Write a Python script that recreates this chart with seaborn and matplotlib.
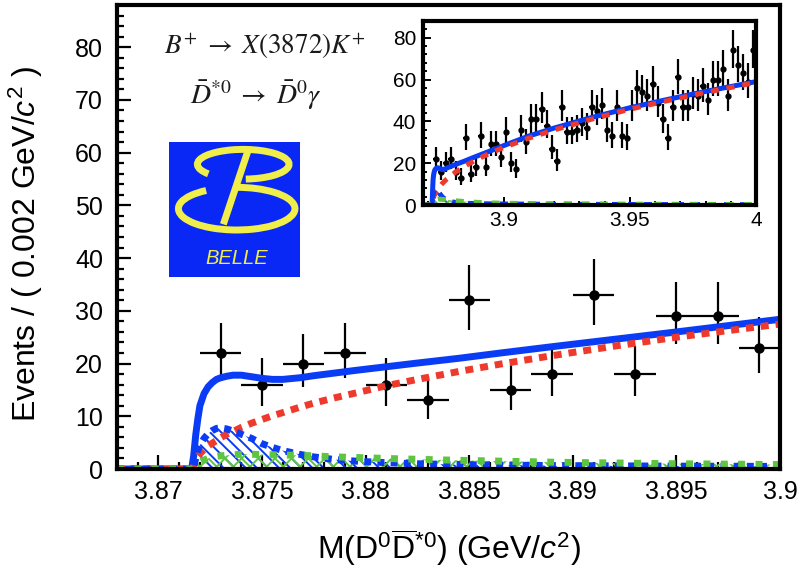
import numpy as np
import matplotlib
matplotlib.use("Agg")
import matplotlib.pyplot as plt
from matplotlib.patches import Arc, Rectangle
from matplotlib.ticker import MultipleLocator, FixedLocator, FixedFormatter
import seaborn as sns

# ---------------------------------------------------------------- data
# Events per 2 MeV/c^2 bin; the first bin starts at 3.872 GeV/c^2
bin_start = 3.872
bin_width = 0.002
events = [22, 16, 20, 22, 16, 13, 32, 15, 18, 33, 18, 29, 29, 23,
          35, 20, 17, 36, 30, 41, 41, 46, 38, 27, 21, 47, 35, 35, 36, 39,
          37, 47, 45, 48, 36, 33, 47, 33, 32, 47, 56, 54, 52, 58, 49, 41,
          32, 47, 61, 47, 47, 53, 52, 57, 50, 60, 60, 65, 52, 74, 67, 63,
          59, 74]

# Fit components sampled along M(D0 D*0bar)
fit_mass = [3.868, 3.8716, 3.8717, 3.8718, 3.8719, 3.872, 3.8722, 3.8724,
            3.8726, 3.8728, 3.873, 3.8733, 3.8736, 3.874, 3.8745, 3.875,
            3.8755, 3.876, 3.8768, 3.8775, 3.8785, 3.8795, 3.881, 3.8825,
            3.8845, 3.8865, 3.889, 3.892, 3.895, 3.9, 3.91, 3.92, 3.935,
            3.95, 3.965, 3.98, 4.0]
fit_total = [0, 0, 2.5, 6.5, 9.5, 12.0, 14.3, 15.6, 16.4, 17.0, 17.3, 17.6,
             17.8, 17.8, 17.5, 17.2, 17.0, 17.0, 17.3, 17.7, 18.2, 18.7,
             19.4, 20.1, 21.0, 22.0, 23.2, 24.6, 26.0, 28.4, 33.0, 36.8,
             41.9, 46.5, 50.5, 54.3, 59.0]
fit_background = [0, 0, 0.5, 1.7, 2.4, 2.9, 3.7, 4.4, 4.9, 5.4, 5.9, 6.6,
                  7.1, 7.9, 8.7, 9.4, 10.1, 10.7, 11.7, 12.5, 13.5, 14.4,
                  15.8, 17.0, 18.5, 19.9, 21.5, 23.3, 25.0, 27.5, 32.0, 35.9,
                  41.1, 45.8, 49.9, 53.8, 58.6]
fit_signal_a = [0, 0, 0.5, 2.0, 3.5, 4.5, 5.8, 6.7, 7.3, 7.7, 7.8, 7.6, 7.2,
                6.6, 5.8, 4.8, 4.1, 3.5, 2.8, 2.3, 1.8, 1.5, 1.2, 1.0, 0.85,
                0.75, 0.65, 0.6, 0.55, 0.5, 0.4, 0.35, 0.3, 0.25, 0.2, 0.2,
                0.15]
fit_signal_b = [0, 0, 0.2, 0.6, 1.0, 1.3, 1.7, 2.0, 2.2, 2.4, 2.5, 2.6, 2.7,
                2.8, 2.8, 2.75, 2.7, 2.65, 2.6, 2.5, 2.3, 2.2, 2.0, 1.85,
                1.65, 1.5, 1.3, 1.15, 1.0, 0.85, 0.7, 0.6, 0.5, 0.4, 0.35,
                0.3, 0.25]

main_xticks = [3.87, 3.875, 3.88, 3.885, 3.89, 3.895, 3.9]
main_xticklabels = ["3.87", "3.875", "3.88", "3.885", "3.89", "3.895", "3.9"]
inset_xticks = [3.9, 3.95, 4.0]
inset_xticklabels = ["3.9", "3.95", "4"]

# ---------------------------------------------------------------- style
sns.set_theme(style="ticks")
plt.rcParams["font.family"] = ["Liberation Sans", "DejaVu Sans"]
plt.rcParams["mathtext.fontset"] = "custom"
plt.rcParams["mathtext.rm"] = "Liberation Sans"
plt.rcParams["mathtext.it"] = "Liberation Sans:italic"
plt.rcParams["mathtext.bf"] = "Liberation Sans:bold"
plt.rcParams["hatch.linewidth"] = 1.4

BLUE = "#0a3cf5"
RED = "#ee3a2c"
GREEN = "#5ec63e"
LOGO_BLUE = "#0a28f5"
LOGO_YELLOW = "#f0ee4a"

events = np.asarray(events, dtype=float)
centres = bin_start + bin_width * (np.arange(len(events)) + 0.5)

# Poisson (Gehrels) 68% intervals for the counts
err_hi = np.sqrt(events + 0.75) + 1.0
err_lo = events - events * (1 - 1 / (9 * events) - 1 / (3 * np.sqrt(events))) ** 3


def draw_fit(ax, lw, red_dash, blue_dash, green_dash):
    ax.fill_between(fit_mass, 0, fit_signal_a, facecolor="none",
                    edgecolor=BLUE, hatch="\\\\\\", linewidth=0, zorder=3)
    ax.fill_between(fit_mass, 0, fit_signal_b, facecolor="none",
                    edgecolor=GREEN, hatch="xx", linewidth=0, zorder=3)
    sns.lineplot(x=fit_mass, y=fit_total, ax=ax, color=BLUE, lw=lw,
                 zorder=4, solid_capstyle="butt")
    sns.lineplot(x=fit_mass, y=fit_background, ax=ax, color=RED, lw=lw,
                 linestyle=(0, red_dash), dash_capstyle="butt", zorder=5)
    sns.lineplot(x=fit_mass, y=fit_signal_a, ax=ax, color=BLUE, lw=lw,
                 linestyle=(0, blue_dash), dash_capstyle="butt", zorder=5)
    sns.lineplot(x=fit_mass, y=fit_signal_b, ax=ax, color=GREEN, lw=lw,
                 linestyle=(0, green_dash), dash_capstyle="butt", zorder=6)


fig = plt.figure(figsize=(8.02, 5.69), dpi=100)
fig.patch.set_facecolor("white")

# ---------------------------------------------------------------- main panel
ax = fig.add_axes([0.1459, 0.1757, 0.8267, 0.8155])
ax.set_facecolor("white")
sel = centres < 3.9
ax.errorbar(centres[sel], events[sel], yerr=[err_lo[sel], err_hi[sel]],
            xerr=bin_width / 2, fmt="o", color="black", ms=6.5,
            elinewidth=1.6, capsize=0, zorder=2)
draw_fit(ax, 5.0, (1.15, 1.0), (1.0, 0.9), (1.0, 1.5))

ax.set_xlim(3.868, 3.9)
ax.set_ylim(0, 88)
ax.xaxis.set_major_locator(FixedLocator(main_xticks))
ax.xaxis.set_major_formatter(FixedFormatter(main_xticklabels))
ax.xaxis.set_minor_locator(MultipleLocator(0.001))
ax.yaxis.set_major_locator(MultipleLocator(10))
ax.yaxis.set_minor_locator(MultipleLocator(2))
ax.tick_params(which="both", direction="in", top=False, right=False,
               width=1.6, colors="black", labelsize=18)
ax.tick_params(which="major", length=10)
ax.tick_params(which="minor", length=5)
ax.tick_params(axis="y", pad=10)
ax.tick_params(axis="x", pad=8)
for sp in ax.spines.values():
    sp.set_linewidth(3.0)
    sp.set_color("black")
    sp.set_zorder(10)

ax.set_xlabel(r"M(D$^{0}$$\overline{\mathrm{D}}^{*0}$) (GeV/$c^{2}$)",
              fontsize=23, color="black")
ax.xaxis.set_label_coords(0.5, -0.125)
ax.set_ylabel(r"Events / ( 0.002 GeV/$c^{2}$ )", fontsize=23, color="black")
ax.yaxis.set_label_coords(-0.108, 0.485)

ax.text(0.2232, 0.9095, r"$B^{+}\;\rightarrow\;X(3872)K^{+}$",
        transform=ax.transAxes, ha="center", va="center", fontsize=19.5,
        math_fontfamily="stix", color="#1a1a1a")
ax.text(0.2097, 0.806, r"$\bar{D}^{*0}\;\rightarrow\;\bar{D}^{0}\gamma$",
        transform=ax.transAxes, ha="center", va="center", fontsize=20,
        math_fontfamily="stix", color="#1a1a1a")

# ---------------------------------------------------------------- Belle logo
lg = fig.add_axes([0.2107, 0.5132, 0.1633, 0.2373])
lg.set_xlim(0, 1)
lg.set_ylim(0, 1)
lg.axis("off")
lg.add_patch(Rectangle((0, 0), 1, 1, facecolor=LOGO_BLUE, edgecolor="none"))
lg.add_patch(Arc((0.567, 0.835), 0.70, 0.22, theta1=280, theta2=195,
                 color=LOGO_YELLOW, lw=5.0))
lg.add_patch(Arc((0.517, 0.506), 0.89, 0.316, theta1=150, theta2=92,
                 color=LOGO_YELLOW, lw=5.0))
lg.plot([0.606, 0.415], [0.943, 0.39], color=LOGO_YELLOW, lw=5.0,
        solid_capstyle="butt")
lg.text(0.52, 0.135, "BELLE", ha="center", va="center", fontsize=14.5,
        style="italic", color=LOGO_YELLOW)

# ---------------------------------------------------------------- inset
ins = fig.add_axes([0.5274, 0.6397, 0.4152, 0.3234])
ins.set_zorder(5)
ins.set_facecolor("white")
ins.errorbar(centres, events, yerr=[err_lo, err_hi], xerr=bin_width / 2,
             fmt="o", color="black", ms=3.5, elinewidth=1.6, capsize=0,
             zorder=2)
draw_fit(ins, 3.6, (1.6, 1.6), (1.6, 1.6), (1.6, 2.0))
ins.set_xlim(3.868, 4.0)
ins.set_ylim(0, 88)
ins.xaxis.set_major_locator(FixedLocator(inset_xticks))
ins.xaxis.set_major_formatter(FixedFormatter(inset_xticklabels))
ins.xaxis.set_minor_locator(MultipleLocator(0.01))
ins.yaxis.set_major_locator(MultipleLocator(20))
ins.yaxis.set_minor_locator(MultipleLocator(4))
ins.tick_params(which="both", direction="in", top=False, right=False,
                width=1.4, colors="black", labelsize=15)
ins.tick_params(which="major", length=6)
ins.tick_params(which="minor", length=3)
ins.tick_params(axis="y", pad=5)
ins.tick_params(axis="x", pad=4)
for sp in ins.spines.values():
    sp.set_linewidth(3.0)
    sp.set_color("black")
    sp.set_zorder(10)
ins.set_xlabel("")
ins.set_ylabel("")

fig.savefig("out.png", dpi=100, facecolor="white")
